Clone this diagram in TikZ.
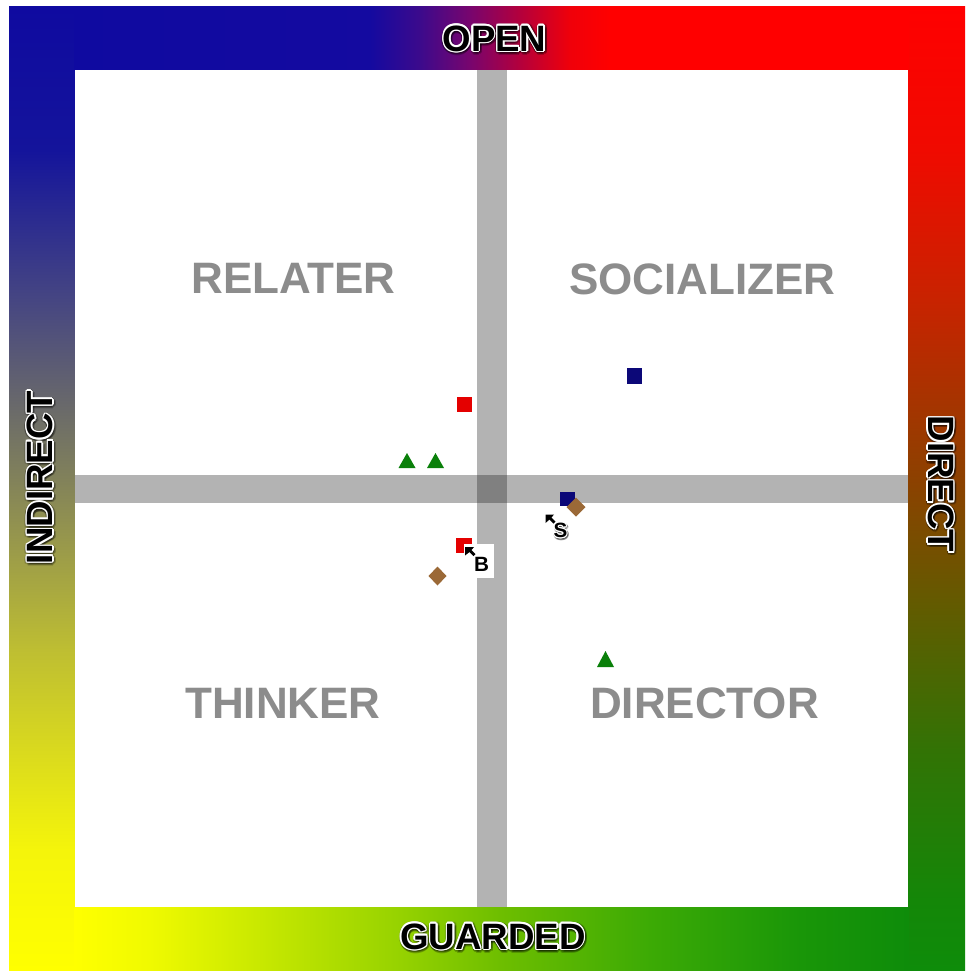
\documentclass[tikz,border=0pt]{standalone}
\usepackage{fontspec}
\setmainfont{Liberation Sans}
\usetikzlibrary{calc}

\definecolor{barGray}{RGB}{179,179,179}
\definecolor{crossGray}{RGB}{128,128,128}
\definecolor{quadGray}{RGB}{140,140,140}
\definecolor{mkRed}{RGB}{228,0,0}
\definecolor{mkNavy}{RGB}{12,8,120}
\definecolor{mkGreen}{RGB}{10,128,10}
\definecolor{mkBrown}{RGB}{155,105,55}

\pgfdeclareverticalshading{leftband}{100bp}{%
 rgb(0bp)=(1,1,0); rgb(25bp)=(1,1,0);
 rgb(31.27bp)=(0.96,0.96,0.04);
 rgb(41.63bp)=(0.745,0.745,0.196);
 rgb(50.44bp)=(0.51,0.51,0.353);
 rgb(59.77bp)=(0.275,0.275,0.51);
 rgb(67.54bp)=(0.078,0.078,0.608);
 rgb(75bp)=(0.059,0.039,0.627); rgb(100bp)=(0.059,0.039,0.627)}

\pgfdeclareverticalshading{rightband}{100bp}{%
 rgb(0bp)=(0.055,0.549,0.039); rgb(25bp)=(0.055,0.549,0.039);
 rgb(28.68bp)=(0.078,0.529,0.031);
 rgb(36.45bp)=(0.196,0.451,0.02);
 rgb(44.22bp)=(0.392,0.353,0);
 rgb(50.44bp)=(0.549,0.255,0);
 rgb(59.77bp)=(0.784,0.137,0);
 rgb(67.54bp)=(0.941,0.039,0);
 rgb(75bp)=(1,0,0); rgb(100bp)=(1,0,0)}

\pgfdeclarehorizontalshading{topband}{100bp}{%
 rgb(0bp)=(0.059,0.039,0.627); rgb(25bp)=(0.059,0.039,0.627);
 rgb(42.71bp)=(0.078,0.039,0.627);
 rgb(45.71bp)=(0.235,0.039,0.549);
 rgb(48.71bp)=(0.471,0.02,0.431);
 rgb(51.71bp)=(0.706,0,0.235);
 rgb(54.71bp)=(0.941,0,0.039);
 rgb(57.11bp)=(1,0,0);
 rgb(75bp)=(1,0,0); rgb(100bp)=(1,0,0)}

\pgfdeclarehorizontalshading{bottomband}{100bp}{%
 rgb(0bp)=(1,1,0); rgb(25bp)=(1,1,0);
 rgb(29.5bp)=(0.941,0.98,0);
 rgb(44.51bp)=(0.588,0.824,0);
 rgb(50.51bp)=(0.431,0.745,0);
 rgb(59.51bp)=(0.235,0.667,0.02);
 rgb(68.52bp)=(0.098,0.588,0.031);
 rgb(75bp)=(0.055,0.549,0.039); rgb(100bp)=(0.055,0.549,0.039)}

\tikzset{
  frametxt/.style={font=\fontsize{27.5}{30}\selectfont\bfseries, inner sep=0pt},
  quadtxt/.style={font=\fontsize{33}{36}\selectfont\bfseries, inner sep=0pt, text=quadGray},
  smalltxt/.style={font=\fontsize{15.5}{17}\selectfont\bfseries, inner sep=0pt},
}

% name, x, y, rotation, style, text, shadow radius, white radius
\newcommand\halolabel[8]{%
  \foreach \a in {0,30,...,330}{
    \node[#5, text=black, text opacity=0.2, rotate=#4] at ($(#2,#3)+(\a:#7)+(0.8,1.2)$) {#6};
  }
  \foreach \a in {0,30,...,330}{
    \node[#5, text=white, rotate=#4] at ($(#2,#3)+(\a:#8)$) {#6};
  }
  \node[#5, text=black, rotate=#4] (#1) at (#2,#3) {#6};
}

\begin{document}
\begin{tikzpicture}[x=0.75pt,y=-0.75pt]
\useasboundingbox (0,0) rectangle (965,971);
\fill[white] (0,0) rectangle (965,971);

% gradient frame
\shade[shading=leftband] (9,6) rectangle (75.5,971);
\shade[shading=rightband] (907.5,6) rectangle (965,971);
\shade[shading=topband] (74.5,6) rectangle (908.5,70);
\shade[shading=bottomband] (74.5,907) rectangle (908.5,971);

% inner field
\fill[white] (75,70) rectangle (908,907);

% axes
\fill[barGray] (477,70) rectangle (507,907);
\fill[barGray] (75,475) rectangle (908,503);
\fill[crossGray] (477,475) rectangle (507,503);

% quadrant labels
\node[quadtxt] (relater) at (293.5,278.5) {RELATER};
\node[quadtxt] (socializer) at (702.5,279) {SOCIALIZER};
\node[quadtxt] (thinker) at (283,703) {THINKER};
\node[quadtxt] (director) at (704.5,703) {DIRECTOR};

% frame labels
\halolabel{open}{494.5}{38.5}{0}{frametxt}{OPEN}{2.8}{1.5}
\halolabel{guarded}{493}{936.5}{0}{frametxt}{GUARDED}{2.8}{1.5}
\halolabel{indirect}{40}{477.5}{90}{frametxt}{INDIRECT}{2.8}{1.5}
\halolabel{direct}{941}{484}{-90}{frametxt}{DIRECT}{2.8}{1.5}

% markers
\fill[mkRed] (457,397) rectangle (471.5,412);
\fill[mkNavy] (627,368) rectangle (642,383.5);
\fill[mkGreen] (407,453) -- (415.5,468) -- (398.5,468) -- cycle;
\fill[mkGreen] (435.5,453) -- (444,468) -- (427,468) -- cycle;
\fill[mkGreen] (605.5,651) -- (614,667) -- (597,667) -- cycle;

% S cluster
\fill[mkNavy] (560,492) rectangle (575,506);
\fill[mkBrown] (576,497.5) -- (585.5,507) -- (576,516.5) -- (566.5,507) -- cycle;
\fill[black] (545.5,514.5) -- (554,514.5) -- (551.5,517.5) -- (555.5,521.5) -- (553.5,523.5) -- (549.5,519.5) -- (545.5,523) -- cycle;
\halolabel{slabel}{560.5}{530.5}{0}{smalltxt}{S}{1.6}{0.9}

% B cluster
\fill[mkRed] (456,538) rectangle (472,553);
\fill[white] (464,544) rectangle (494,578);
\fill[black] (465,547) -- (474,547) -- (471.5,550) -- (475.5,554) -- (473.5,556) -- (469.5,552) -- (465,555.5) -- cycle;
\node[smalltxt, text=black] (blabel) at (481.5,564.5) {B};
\fill[mkBrown] (437.5,566.5) -- (446.5,576) -- (437.5,585.5) -- (428.5,576) -- cycle;
\end{tikzpicture}
\end{document}
